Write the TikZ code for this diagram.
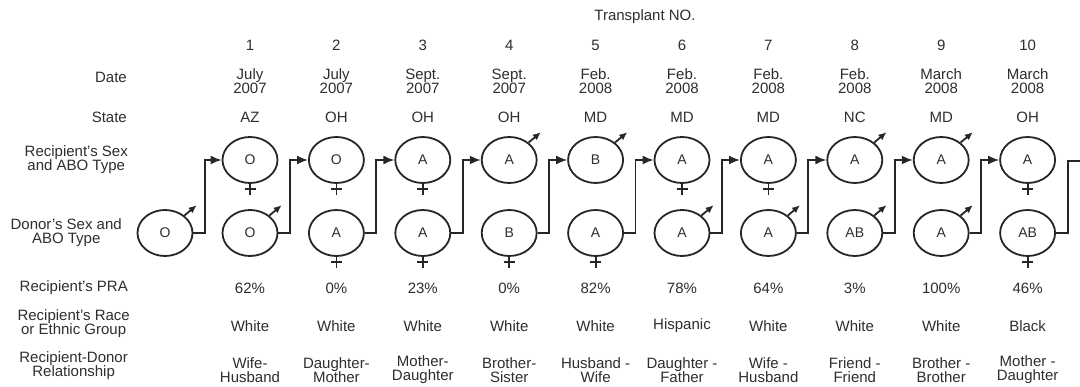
\documentclass[tikz,border=0pt]{standalone}
\usepackage{fontspec}
\setmainfont{Liberation Sans}
\usetikzlibrary{arrows.meta,shapes.geometric}
\begin{document}
\begin{tikzpicture}[x=1pt,y=-1pt,
  txt/.style={font=\fontsize{15}{14}\selectfont, text=black!82, align=center, inner sep=0pt},
  lab/.style={txt, anchor=east},
  bt/.style={ellipse, draw=black!85, line width=1.8pt, minimum width=55pt, minimum height=46pt, inner sep=0pt, font=\fontsize{14}{14}\selectfont, text=black!82},
  conn/.style={draw=black!85, line width=1.8pt, -{Latex[length=11pt,width=9pt]}},
  connend/.style={draw=black!85, line width=1.8pt},
  malesym/.style={draw=black!85, line width=1.8pt, -{Latex[length=8pt,width=7pt]}},
  femsym/.style={draw=black!85, line width=1.8pt},
]
\useasboundingbox (0,0) rectangle (1080,387);
\fill[white] (0,0) rectangle (1080,387);

% row labels
\node[txt] (title) at (645,17) {Transplant NO.};
\node[lab] (lDate) at (127,77) {Date};
\node[lab] (lState) at (127,117) {State};
\node[lab] (lRec) at (128,160) {Recipient's Sex\\and ABO Type};
\node[lab] (lDon) at (122,233) {Donor's Sex and\\ABO Type};
\node[lab] (lPRA) at (128,288) {Recipient's PRA};
\node[lab] (lRace) at (130,323.5) {Recipient's Race\\or Ethnic Group};
\node[lab] (lRel) at (128,366) {Recipient-Donor\\Relationship};

% first donor
\node[bt] (d0) at (165,233) {O};

% columns
\foreach \i/\rt/\dt/\dte/\st/\pra/\race/\rel in {
  1/O/O/{July\\2007}/AZ/62\%/White/{Wife-\\Husband},
  2/O/A/{July\\2007}/OH/0\%/White/{Daughter-\\Mother},
  3/A/A/{Sept.\\2007}/OH/23\%/White/{Mother-\\Daughter},
  4/A/B/{Sept.\\2007}/OH/0\%/White/{Brother-\\Sister},
  5/B/A/{Feb.\\2008}/MD/82\%/White/{Husband -\\Wife},
  6/A/A/{Feb.\\2008}/MD/78\%/Hispanic/{Daughter -\\Father},
  7/A/A/{Feb.\\2008}/MD/64\%/White/{Wife -\\Husband},
  8/A/AB/{Feb.\\2008}/NC/3\%/White/{Friend -\\Friend},
  9/A/A/{March\\2008}/MD/100\%/White/{Brother -\\Brother},
  10/A/AB/{March\\2008}/OH/46\%/Black/{Mother -\\Daughter}} {
  \pgfmathsetmacro\xx{250+86.4*(\i-1)}
  \node[txt] (n\i) at (\xx,45) {\i};
  \node[txt] (date\i) at (\xx,81) {\dte};
  \node[txt] (st\i) at (\xx,117) {\st};
  \node[bt] (r\i) at (\xx,160) {\rt};
  \node[bt] (d\i) at (\xx,233) {\dt};
  \node[txt] (pra\i) at (\xx,288) {\pra};
  \node[txt] (race\i) at (\xx,326) {\race};
  \node[txt] (rel\i) at (\xx,370) {\rel};
}

% sex symbols
\foreach \n in {r1,r2,r3,r6,r7,r10,d2,d3,d4,d5,d10} {
  \draw[femsym] (\n.south) -- ++(0,11);
  \draw[femsym] (\n.south) ++(-5.5,5.5) -- ++(11,0);
}
\foreach \n in {r4,r5,r8,r9,d0,d1,d6,d7,d8,d9} {
  \draw[malesym] (\n.42) -- ++(-40:16);
}

% connectors
\foreach \i [evaluate=\i as \j using int(\i+1)] in {0,...,9} {
  \draw[conn] (d\i.east) -- ++(11.5,0) |- (r\j.west);
}
\coordinate (endR) at (1080,161);
\draw[connend] (d10.east) -- ++(12,0) |- (endR);
\end{tikzpicture}
\end{document}
